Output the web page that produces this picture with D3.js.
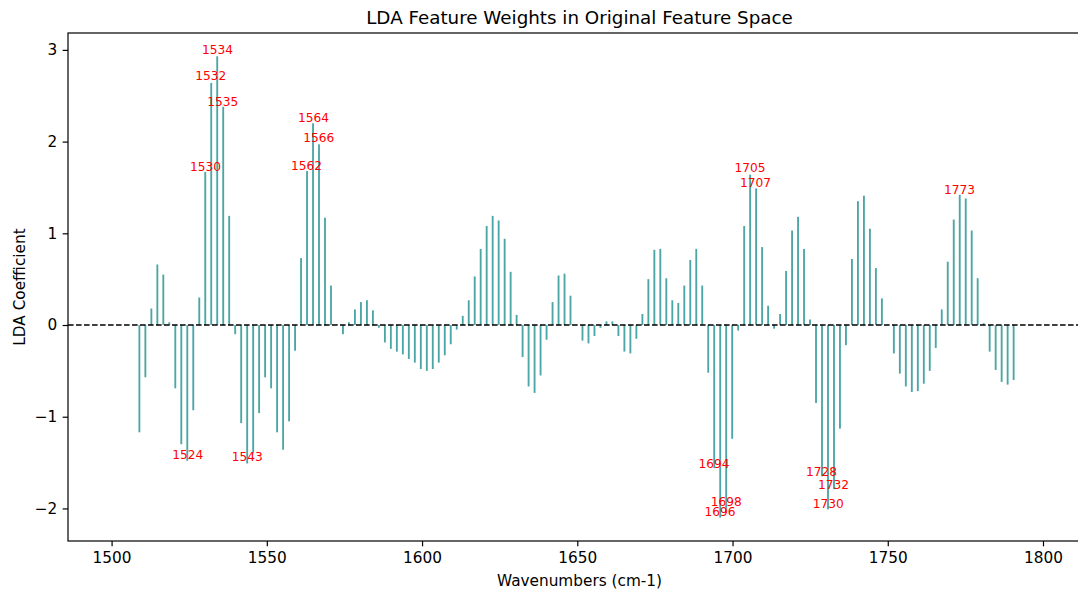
<!DOCTYPE html>
<html>
<head>
<meta charset="utf-8">
<script src="https://cdn.jsdelivr.net/npm/d3@7"></script>
<style>
  body { margin: 0; background: #fff; overflow: hidden; }
  text { font-family: "DejaVu Sans", sans-serif; }
</style>
</head>
<body>
<div id="graph"></div>
<script>
/* LDA weights per wavenumber */
const wavenumbers = [
  1508.95, 1510.88, 1512.81, 1514.74, 1516.66, 1518.59, 1520.52, 1522.45, 1524.38, 1526.31,
  1528.24, 1530.17, 1532.09, 1534.02, 1535.95, 1537.88, 1539.81, 1541.74, 1543.67, 1545.60,
  1547.52, 1549.45, 1551.38, 1553.31, 1555.24, 1557.17, 1559.10, 1561.02, 1562.95, 1564.88,
  1566.81, 1568.74, 1570.67, 1572.60, 1574.52, 1576.45, 1578.38, 1580.31, 1582.24, 1584.17,
  1586.10, 1588.03, 1589.95, 1591.88, 1593.81, 1595.74, 1597.67, 1599.60, 1601.53, 1603.45,
  1605.38, 1607.31, 1609.24, 1611.17, 1613.10, 1615.03, 1616.96, 1618.88, 1620.81, 1622.74,
  1624.67, 1626.60, 1628.53, 1630.46, 1632.38, 1634.31, 1636.24, 1638.17, 1640.10, 1642.03,
  1643.96, 1645.89, 1647.81, 1649.74, 1651.67, 1653.60, 1655.53, 1657.46, 1659.39, 1661.31,
  1663.24, 1665.17, 1667.10, 1669.03, 1670.96, 1672.89, 1674.82, 1676.74, 1678.67, 1680.60,
  1682.53, 1684.46, 1686.39, 1688.32, 1690.24, 1692.17, 1694.10, 1696.03, 1697.96, 1699.89,
  1701.82, 1703.75, 1705.67, 1707.60, 1709.53, 1711.46, 1713.39, 1715.32, 1717.25, 1719.18,
  1721.10, 1723.03, 1724.96, 1726.89, 1728.82, 1730.75, 1732.68, 1734.60, 1736.53, 1738.46,
  1740.39, 1742.32, 1744.25, 1746.18, 1748.11, 1750.03, 1751.96, 1753.89, 1755.82, 1757.75,
  1759.68, 1761.61, 1763.53, 1765.46, 1767.39, 1769.32, 1771.25, 1773.18, 1775.11, 1777.04,
  1778.96, 1780.89, 1782.82, 1784.75, 1786.68, 1788.61, 1790.54
];

const coefficients = [
  -1.17, -0.57, 0.18, 0.66, 0.55, 0.03, -0.69, -1.30, -1.48, -0.93,
  0.30, 1.67, 2.64, 2.93, 2.38, 1.19, -0.10, -1.07, -1.51, -1.40,
  -0.96, -0.57, -0.69, -1.17, -1.36, -1.05, -0.28, 0.73, 1.68, 2.20,
  1.97, 1.17, 0.43, 0.005, -0.10, 0.03, 0.17, 0.25, 0.27, 0.16,
  -0.03, -0.19, -0.26, -0.29, -0.32, -0.37, -0.41, -0.48, -0.50, -0.48,
  -0.41, -0.33, -0.21, -0.05, 0.10, 0.27, 0.53, 0.83, 1.08, 1.19,
  1.14, 0.94, 0.58, 0.11, -0.35, -0.67, -0.74, -0.55, -0.16, 0.25,
  0.54, 0.56, 0.32, 0.005, -0.17, -0.20, -0.12, -0.03, 0.04, 0.04,
  -0.12, -0.29, -0.31, -0.15, 0.12, 0.50, 0.82, 0.83, 0.51, 0.27,
  0.24, 0.43, 0.71, 0.83, 0.43, -0.52, -1.56, -2.10, -2.05, -1.24,
  -0.06, 1.08, 1.64, 1.49, 0.85, 0.21, -0.04, 0.12, 0.59, 1.03,
  1.18, 0.83, 0.06, -0.85, -1.65, -2.01, -1.79, -1.13, -0.22, 0.72,
  1.35, 1.41, 1.05, 0.62, 0.29, 0.005, -0.31, -0.53, -0.67, -0.73,
  -0.72, -0.64, -0.50, -0.25, 0.17, 0.69, 1.15, 1.42, 1.38, 1.03,
  0.51, 0.02, -0.29, -0.49, -0.62, -0.65, -0.60
];

/* red annotations: text, and where the text sits (data units) */
const labelTexts = ["1534", "1532", "1535", "1530", "1564", "1566", "1562", "1524", "1543",
  "1705", "1707", "1694", "1698", "1696", "1773", "1728", "1732", "1730"];
const labelX = [1534.1, 1531.95, 1535.8, 1530.25, 1565.0, 1566.7, 1562.8, 1524.5, 1543.7,
  1705.6, 1707.4, 1694.0, 1697.95, 1696.0, 1773.1, 1728.7, 1732.55, 1730.85];
const labelY = [3.00, 2.72, 2.435, 1.726, 2.254, 2.039, 1.737, -1.418, -1.443,
  1.715, 1.545, -1.516, -1.933, -2.043, 1.475, -1.600, -1.745, -1.955];

const xTicks = [1500, 1550, 1600, 1650, 1700, 1750, 1800];
const yTicks = [-2, -1, 0, 1, 2, 3];

window.addEventListener("DOMContentLoaded", main)

function main() {
    const W = 1078, H = 589;
    // the axes run past the right edge of the picture
    const left = 68, right = 1091, top = 33, bottom = 541;
    const mid = (left + right) / 2;

    const svg = d3.select("#graph").append("svg").attr("width", W).attr("height", H)

    const x = d3.scaleLinear().domain([1485.96, 1815.46]).range([left, right]);
    const y = d3.scaleLinear().domain([-2.355, 3.184]).range([bottom, top]);

    const barW = x(0.6) - x(0);

    svg.append("g")
        .selectAll("rect")
        .data(coefficients)
        .enter()
        .append("rect")
        .attr("x", (d, i) => x(wavenumbers[i]) - barW / 2)
        .attr("y", d => y(Math.max(0, d)))
        .attr("width", barW)
        .attr("height", d => Math.abs(y(d) - y(0)))
        .attr("fill", "teal")
        .attr("fill-opacity", 0.7);

    // zero line
    svg.append("line")
        .attr("x1", left).attr("x2", right)
        .attr("y1", y(0)).attr("y2", y(0))
        .attr("stroke", "black")
        .attr("stroke-width", 1.5)
        .attr("stroke-dasharray", "5.6,2.4");

    svg.append("g")
        .selectAll("text")
        .data(labelTexts)
        .enter()
        .append("text")
        .attr("x", (d, i) => x(labelX[i]))
        .attr("y", (d, i) => y(labelY[i]))
        .attr("text-anchor", "middle")
        .attr("dominant-baseline", "central")
        .attr("font-size", "12.2px")
        .attr("fill", "red")
        .text(d => d);

    const fmt = d => (d < 0 ? "\u2212" + Math.abs(d) : String(d));

    const xAxis = svg.append("g")
        .attr("transform", "translate(0," + bottom + ")")
        .call(d3.axisBottom(x).tickValues(xTicks).tickSize(5.35).tickPadding(5.35).tickFormat(d => d));
    const yAxis = svg.append("g")
        .attr("transform", "translate(" + left + ",0)")
        .call(d3.axisLeft(y).tickValues(yTicks).tickSize(5.35).tickPadding(5.35).tickFormat(fmt));

    [xAxis, yAxis].forEach(g => {
        g.select(".domain").remove();
        g.selectAll(".tick line").attr("stroke", "black").attr("stroke-width", 1.2);
        g.selectAll(".tick text").attr("font-size", "15.3px").attr("fill", "black")
            .attr("font-family", "DejaVu Sans, sans-serif");
    });

    // frame
    svg.append("rect")
        .attr("x", left).attr("y", top)
        .attr("width", right - left).attr("height", bottom - top)
        .attr("fill", "none").attr("stroke", "black").attr("stroke-width", 1.2);

    svg.append("text")
        .attr("x", mid).attr("y", 23.8)
        .attr("text-anchor", "middle")
        .attr("font-size", "18.3px")
        .text("LDA Feature Weights in Original Feature Space");

    svg.append("text")
        .attr("x", mid).attr("y", 585.5)
        .attr("text-anchor", "middle")
        .attr("font-size", "15.3px")
        .text("Wavenumbers (cm-1)");

    svg.append("text")
        .attr("transform", "translate(25," + ((top + bottom) / 2) + ") rotate(-90)")
        .attr("text-anchor", "middle")
        .attr("font-size", "15.3px")
        .text("LDA Coefficient");
}
</script>
</body>
</html>
